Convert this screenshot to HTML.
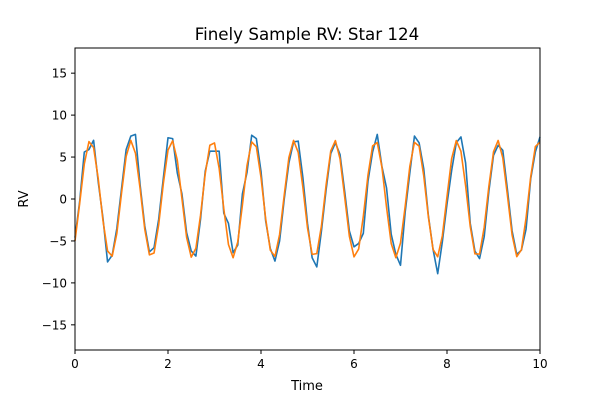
<!DOCTYPE html>
<html><head><meta charset="utf-8"><style>
body{margin:0;background:#fff;font-family:"Liberation Sans","DejaVu Sans",sans-serif}
svg text{font-family:"DejaVu Sans","Liberation Sans",sans-serif;fill:#000}
</style></head><body>
<svg id="chart" width="600" height="400">
<rect width="600" height="400" fill="#fff"/>
<text x="307" y="40" font-size="16.7" text-anchor="middle">Finely Sample RV: Star 124</text>
<g id="plot"></g>
<rect x="75" y="48" width="465" height="302" fill="none" stroke="#000" stroke-width="1"/>
<text x="307" y="390" font-size="13" text-anchor="middle">Time</text>
<text x="28" y="199" font-size="13" text-anchor="middle" transform="rotate(-90 28 199)">RV</text>
<g id="axes"></g>
</svg>
<script>
const xTicks=[0,2,4,6,8,10];
const yTicks=[-15,-10,-5,0,5,10,15];
const orange=[-5.0,-0.55,4.17,6.84,6.13,2.41,-2.51,-6.19,-6.82,-4.09,0.66,5.08,6.99,5.46,1.24,-3.59,-6.66,-6.44,-3.05,1.85,5.83,6.94,4.63,0.04,-4.57,-6.93,-5.87,-1.92,2.98,6.41,6.68,3.66,-1.17,-5.42,-7.0,-5.13,-0.73,4.02,6.80,6.22,2.58,-2.34,-6.10,-6.85,-4.23,0.48,4.95,6.98,5.57,1.42,-3.44,-6.60,-6.51,-3.21,1.67,5.73,6.96,4.77,0.22,-4.43,-6.90,-5.97,-2.09,2.81,6.33,6.73,3.81,-0.99,-5.30,-7.0,-5.25,-0.91,3.87,6.75,6.30,2.75,-2.16,-6.01,-6.89,-4.38,0.29,4.82,6.97,5.68,1.60,-3.28,-6.54,-6.57,-3.37,1.49,5.62,6.98,4.90,0.40,-4.29,-6.87,-6.06,-2.27,2.64,6.25,6.78];
const blue=[-4.6,-0.3,5.6,5.9,7.0,2.0,-2.2,-7.5,-6.7,-3.5,1.2,5.9,7.5,7.7,1.7,-3.2,-6.3,-5.8,-2.4,2.5,7.3,7.2,3.1,0.6,-4.0,-6.2,-6.8,-2.4,3.3,5.7,5.7,5.7,-1.7,-2.9,-6.4,-5.5,0.6,3.2,7.6,7.2,3.3,-2.6,-5.9,-7.4,-5.0,0.0,4.3,6.8,6.9,2.6,-2.9,-7.0,-8.1,-3.8,1.1,5.4,6.7,5.3,0.9,-3.8,-5.7,-5.3,-4.1,2.1,5.6,7.7,3.9,1.3,-4.2,-6.6,-7.9,-1.6,3.1,7.5,6.7,3.6,-2.0,-6.0,-8.9,-5.1,-0.6,3.4,6.7,7.4,4.3,-2.9,-6.2,-7.1,-4.5,0.9,5.2,6.4,5.8,1.1,-3.8,-6.6,-6.1,-3.6,2.4,5.6,7.4];
const X0=75,X1=540,Y0=350,Y1=48;
const sx=v=>X0+(v-0)/(10-0)*(X1-X0);
const sy=v=>Y0-(v+18)/36*(Y0-Y1);
const NS="http://www.w3.org/2000/svg";
const plot=document.getElementById('plot'),axes=document.getElementById('axes');
function series(arr,color,name){
  const p=document.createElementNS(NS,'polyline');
  p.setAttribute('points',arr.map((v,i)=>sx(i*0.1).toFixed(2)+','+sy(v).toFixed(2)).join(' '));
  p.setAttribute('fill','none');p.setAttribute('stroke',color);p.setAttribute('stroke-width','1.6');
  p.setAttribute('stroke-linejoin','round');
  
  
  plot.appendChild(p);
}
series(blue,'#1f77b4','rv-observed-line');
series(orange,'#ff7f0e','rv-model-line');
xTicks.forEach(t=>{
  const l=document.createElementNS(NS,'line');
  l.setAttribute('x1',sx(t));l.setAttribute('x2',sx(t));l.setAttribute('y1',350);l.setAttribute('y2',354);l.setAttribute('stroke','#000');
  
  
  axes.appendChild(l);
  const tx=document.createElementNS(NS,'text');
  tx.setAttribute('x',sx(t));tx.setAttribute('y',368);tx.setAttribute('font-size','12');tx.setAttribute('text-anchor','middle');
  tx.textContent=t;
  
  
  axes.appendChild(tx);
});
yTicks.forEach(t=>{
  const l=document.createElementNS(NS,'line');
  l.setAttribute('x1',71);l.setAttribute('x2',75);l.setAttribute('y1',sy(t));l.setAttribute('y2',sy(t));l.setAttribute('stroke','#000');
  
  
  axes.appendChild(l);
  const tx=document.createElementNS(NS,'text');
  tx.setAttribute('x',67);tx.setAttribute('y',sy(t)+4.5);tx.setAttribute('font-size','12');tx.setAttribute('text-anchor','end');
  tx.textContent=t<0?'\u2212'+(-t):t;
  
  
  axes.appendChild(tx);
});
</script>
</body></html>
